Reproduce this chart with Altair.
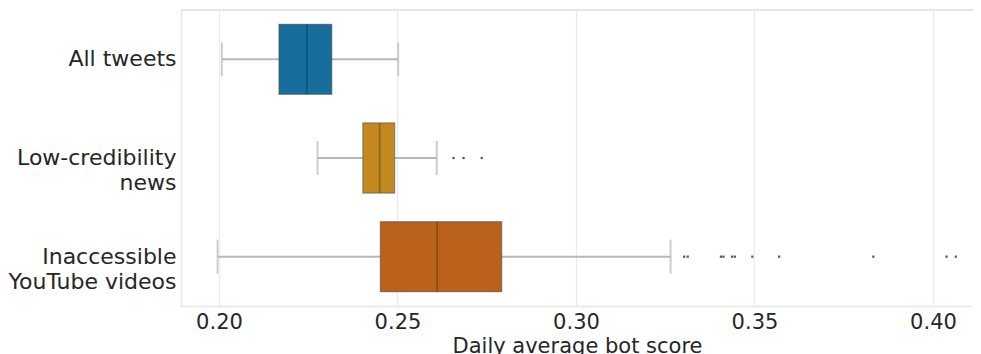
import altair as alt
import pandas as pd

categories = ["All tweets", "Low-credibility\nnews", "Inaccessible\nYouTube videos"]
lower_whisker = [0.2008, 0.2276, 0.1996]
q1 = [0.2168, 0.2403, 0.2452]
median = [0.2246, 0.2450, 0.2611]
q3 = [0.2316, 0.2492, 0.2792]
upper_whisker = [0.2502, 0.2610, 0.3265]

outlier_cats = [categories[1]] * 3 + [categories[2]] * 11
outlier_vals = [0.2657, 0.2685, 0.2736,
                0.3303, 0.3313, 0.3406, 0.3413, 0.3437, 0.3445,
                0.3494, 0.3569, 0.3833, 0.4038, 0.4064]

box_colors = ["#176D9C", "#C38820", "#BA611B"]
median_colors = ["#0f4a6b", "#7f5a16", "#7a4012"]
tick_values = [0.20, 0.25, 0.30, 0.35, 0.40]

stats = pd.DataFrame({
    "cat": categories, "lw": lower_whisker, "q1": q1, "med": median,
    "q3": q3, "uw": upper_whisker,
})
outliers = pd.DataFrame({"cat": outlier_cats, "val": outlier_vals})

FONT = "DejaVu Sans"
W, H = 792, 296
FRAME = "#e6e6e6"
xscale = alt.Scale(domain=[0.18936, 0.41121], nice=False, zero=False)
yscale = alt.Scale(domain=categories, paddingInner=0.29, paddingOuter=0.145)

x_axis = alt.Axis(values=tick_values, format=".2f", title="Daily average bot score",
                  grid=True, gridColor="#ebebeb", gridWidth=1.2, ticks=False,
                  domain=True, domainColor=FRAME, domainWidth=1.5,
                  labelFontSize=21, labelPadding=5, titleFontSize=21, titleFontWeight="normal",
                  titlePadding=3, labelColor="#262626", titleColor="#262626",
                  labelFont=FONT, titleFont=FONT)
y_axis = alt.Axis(title=None, ticks=False, domain=True, domainColor=FRAME, domainWidth=1.5,
                  grid=False,
                  labelFontSize=22, labelPadding=5, labelColor="#262626", labelFont=FONT,
                  labelExpr="split(datum.label, '\\n')", labelLineHeight=25)

base = alt.Chart(stats)
y_plain = alt.Y("cat:N", scale=yscale, sort=categories)

top_line = alt.Chart(stats).mark_rule(color=FRAME, strokeWidth=1.5).encode(
    x=alt.value(0), x2=alt.value(W + 10), y=alt.value(0))

whisker = base.mark_rule(color="#b8b8b8", strokeWidth=2).encode(
    x=alt.X("lw:Q", scale=xscale, axis=x_axis), x2="uw:Q",
    y=alt.Y("cat:N", scale=yscale, axis=y_axis, sort=categories))

caps_lo = base.mark_tick(color="#b8b8b8", thickness=2, size=34, orient="vertical").encode(
    x=alt.X("lw:Q", scale=xscale), y=y_plain)
caps_hi = base.mark_tick(color="#b8b8b8", thickness=2, size=34, orient="vertical").encode(
    x=alt.X("uw:Q", scale=xscale), y=y_plain)

box = base.mark_bar(stroke="#4d4d4d", strokeOpacity=0.55, strokeWidth=1.2).encode(
    x=alt.X("q1:Q", scale=xscale), x2="q3:Q",
    y=y_plain,
    color=alt.Color("cat:N", scale=alt.Scale(domain=categories, range=box_colors), legend=None),
)

med = base.mark_tick(thickness=1.5, size=70, orient="vertical", opacity=0.8).encode(
    x=alt.X("med:Q", scale=xscale),
    y=y_plain,
    color=alt.Color("cat:N", scale=alt.Scale(domain=categories, range=median_colors), legend=None),
)

fliers = alt.Chart(outliers).mark_point(filled=True, size=5, color="#444444", opacity=0.9, shape="square").encode(
    x=alt.X("val:Q", scale=xscale),
    y=y_plain,
)

chart = alt.layer(top_line, whisker, caps_lo, caps_hi, box, med, fliers).resolve_scale(color="independent").properties(
    width=W, height=H,
    autosize="none",
    padding={"left": 173, "top": 2, "right": 0, "bottom": 50},
).configure_view(stroke=None).configure(font=FONT)

chart.save("out.html", embed_options={"renderer": "svg", "actions": False})
